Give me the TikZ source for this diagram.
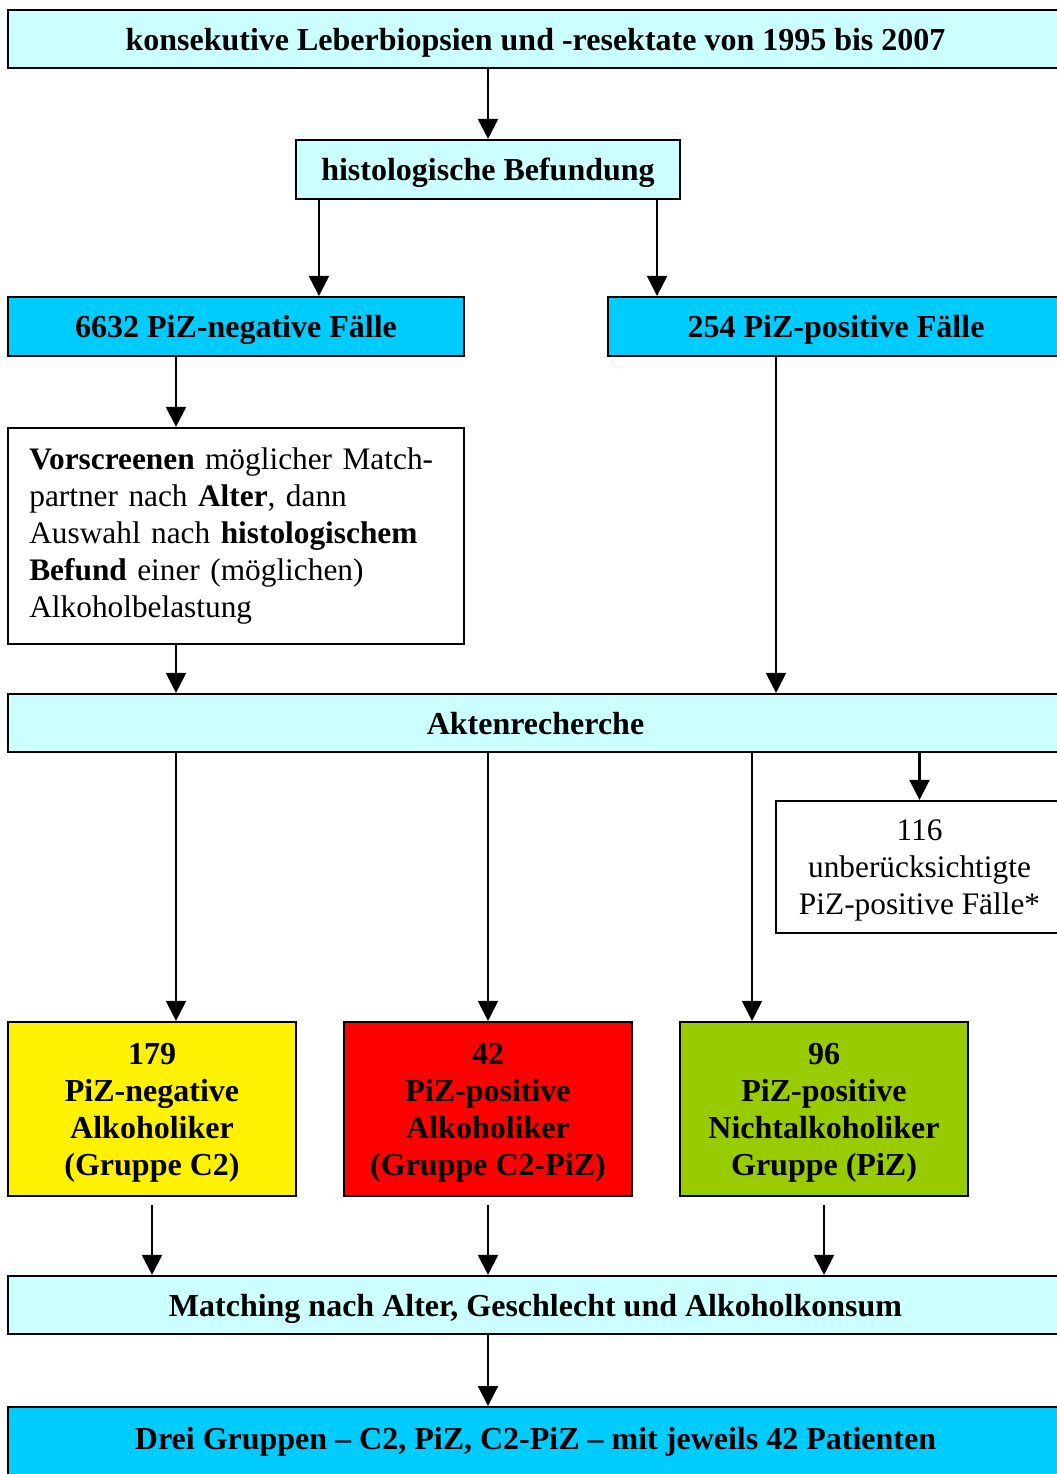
\documentclass[tikz,border=0pt]{standalone}
\usepackage{fontspec}
\setmainfont{Liberation Serif}
\usetikzlibrary{arrows.meta, positioning}
\definecolor{paleblue}{HTML}{CCFFFF}
\definecolor{skyblue}{HTML}{00CCFF}
\definecolor{leafgreen}{HTML}{99CC00}
\tikzstyle{process} = [rectangle, draw=black, thick, inner sep=0pt, text depth=0pt, align=center, font=\fontsize{12}{13.9}\selectfont\bfseries]
\tikzstyle{plain} = [process, font=\fontsize{11.75}{13.9}\selectfont]
\tikzstyle{wide} = [process, minimum width=395.6pt, minimum height=21.75pt]
\tikzstyle{group} = [process, minimum width=108pt, minimum height=65.25pt]
\tikzstyle{arrow} = [thick,-{Triangle[length=7.5pt,width=7.5pt]}]

\begin{document}
\begin{tikzpicture}[x=0.375pt, y=-0.375pt]
        \useasboundingbox (0,0) rectangle (1056,1474);
        \node (source) [wide, fill=paleblue] at (535.5,39) {konsekutive Leberbiopsien und -resektate von 1995 bis 2007};
        \node (histo) [process, fill=paleblue, minimum width=144pt, minimum height=22.1pt] at (488,169.5) {histologische Befundung};
        \node (negative) [process, fill=skyblue, minimum width=171pt, minimum height=22.1pt] at (236,326.5) {6632 PiZ-negative Fälle};
        \node (positive) [process, fill=skyblue, minimum width=171pt, minimum height=22.1pt] at (836,326.5) {254 PiZ-positive Fälle};
        \node (prescreen) [plain, text depth=, align=left, text width=155pt, minimum width=171pt, minimum height=81pt] at (236,536) {\textbf{Vorscreenen} möglicher Match-\\partner nach \textbf{Alter}, dann\\Auswahl nach \textbf{histologischem}\\\textbf{Befund} einer (möglichen)\\Alkoholbelastung};
        \node (records) [wide, fill=paleblue] at (535.5,723) {Aktenrecherche};
        \node (excluded) [plain, minimum width=107.6pt, minimum height=49.5pt] at (919.5,867) {116\\unberücksichtigte\\PiZ-positive Fälle*};
        \node (alcneg) [group, fill=yellow] at (152,1109) {179\\PiZ-negative\\Alkoholiker\\(Gruppe C2)};
        \node (alcpos) [group, fill=red] at (488,1109) {42\\PiZ-positive\\Alkoholiker\\(Gruppe C2-PiZ)};
        \node (nonalc) [group, fill=leafgreen] at (824,1109) {96\\PiZ-positive\\Nichtalkoholiker\\Gruppe (PiZ)};
        \node (matching) [wide, fill=paleblue] at (535.5,1305) {Matching nach Alter, Geschlecht und Alkoholkonsum};
        \node (result) [wide, fill=skyblue, anchor=north, minimum height=37.5pt, text depth=14.2pt] at (535.5,1406) {Drei Gruppen -- C2, PiZ, C2-PiZ -- mit jeweils 42 Patienten};

        \draw [arrow] (histo.north |- source.south) -- (histo.north);
        \draw [arrow] ([xshift=9pt]histo.south west) -- ([xshift=9pt]histo.south west |- negative.north);
        \draw [arrow] ([xshift=-9pt]histo.south east) -- ([xshift=-9pt]histo.south east |- positive.north);
        \draw [arrow] ([xshift=-22.5pt]negative.south) -- ([xshift=-22.5pt]prescreen.north);
        \draw [arrow] ([xshift=-22.5pt]prescreen.south) -- ([xshift=-22.5pt]prescreen.south |- records.north);
        \draw [arrow] ([xshift=-22.5pt]positive.south) -- ([xshift=-22.5pt]positive.south |- records.north);
        \draw [arrow] (excluded.north |- records.south) -- (excluded.north);
        \draw [arrow] ([xshift=9pt]alcneg.north |- records.south) -- ([xshift=9pt]alcneg.north);
        \draw [arrow] (alcpos.north |- records.south) -- (alcpos.north);
        \draw [arrow] ([xshift=-27pt]nonalc.north |- records.south) -- ([xshift=-27pt]nonalc.north);
        \draw [arrow, shorten <=3pt] (alcneg.south) -- (alcneg.south |- matching.north);
        \draw [arrow, shorten <=3pt] (alcpos.south) -- (alcpos.south |- matching.north);
        \draw [arrow, shorten <=3pt] (nonalc.south) -- (nonalc.south |- matching.north);
        \draw [arrow] (alcpos.south |- matching.south) -- (alcpos.south |- result.north);
    \end{tikzpicture}
\end{document}
